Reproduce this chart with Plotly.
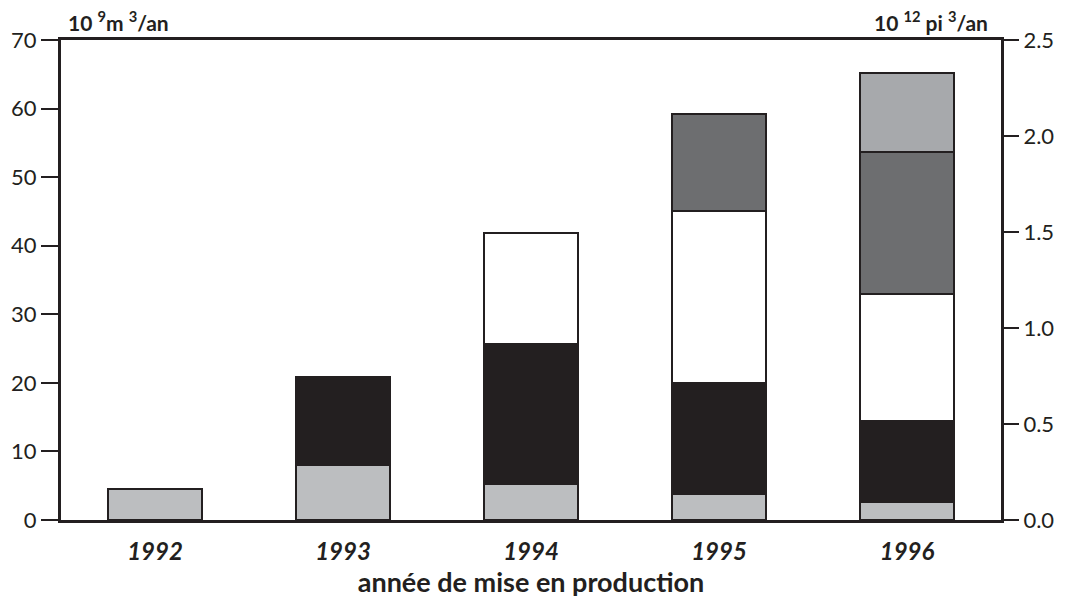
import plotly.graph_objects as go

# années de mise en production
years = ["1992", "1993", "1994", "1995", "1996"]

# tranches empilées, 10^9 m3/an (None = pas de tranche)
seg_1 = [4.5, 8.0, 5.3, 3.8, 2.6]
seg_2 = [None, 12.9, 20.3, 16.2, 11.9]
seg_3 = [None, None, 16.3, 25.1, 18.5]
seg_4 = [None, None, None, 14.1, 20.6]
seg_5 = [None, None, None, None, 11.6]

seg_colors = ["#bcbec0", "#231f20", "#ffffff", "#6d6e70", "#a7a9ac"]

left_ticks = [0, 10, 20, 30, 40, 50, 60, 70]
right_range = [0, 2.5]

ink = "#231f20"
font_family = "Lato, 'Open Sans', sans-serif"

fig = go.Figure()
for vals, col in zip([seg_1, seg_2, seg_3, seg_4, seg_5], seg_colors):
    fig.add_trace(go.Bar(
        x=years, y=vals,
        marker=dict(color=col, line=dict(color=ink, width=2)),
        showlegend=False, hoverinfo="skip",
    ))

# trace vide pour activer l'axe de droite (10^12 pi3/an)
fig.add_trace(go.Scatter(x=years, y=[None] * len(years), yaxis="y2",
                         mode="markers", showlegend=False, hoverinfo="skip"))

fig.update_layout(
    width=1065, height=600,
    barmode="stack",
    bargap=0.495,
    plot_bgcolor="white",
    paper_bgcolor="white",
    margin=dict(l=61, r=64, t=40, b=80, autoexpand=False),
    font=dict(family=font_family, color=ink, size=22),
    xaxis=dict(
        showline=True, linecolor=ink, linewidth=3, mirror=True,
        ticks="", showgrid=False, automargin=False, ticklabelstandoff=8,
        tickfont=dict(size=24, weight="bold", style="italic", color=ink),
        title=dict(text="année de mise en production",
                   font=dict(size=27, weight="bold", color=ink), standoff=4),
    ),
    yaxis=dict(
        range=[0, 70], tickvals=left_ticks,
        showline=True, linecolor=ink, linewidth=3, mirror=True,
        ticks="outside", ticklen=17, tickwidth=1.5, tickcolor=ink,
        showgrid=False, zeroline=False, automargin=False,
        tickfont=dict(size=22, color=ink),
    ),
    yaxis2=dict(
        overlaying="y", side="right", range=right_range, dtick=0.5,
        tickformat=".1f",
        showline=True, linecolor=ink, linewidth=3,
        ticks="outside", ticklen=15, tickwidth=1.5, tickcolor=ink,
        showgrid=False, zeroline=False, automargin=False,
        tickfont=dict(size=22, color=ink),
    ),
    annotations=[
        dict(text="<b>10 <sup>9</sup>m <sup>3</sup>/an</b>", xref="paper", yref="paper",
             x=0.005, y=1, xanchor="left", yanchor="bottom", yshift=3, showarrow=False,
             font=dict(size=21, color=ink)),
        dict(text="<b>10 <sup>12</sup> pi <sup>3</sup>/an</b>", xref="paper", yref="paper",
             x=0.988, y=1, xanchor="right", yanchor="bottom", yshift=3, showarrow=False,
             font=dict(size=21, color=ink)),
    ],
)

fig.write_html("out.html", config={"displayModeBar": False},
               post_script="document.body.style.margin='0';")
